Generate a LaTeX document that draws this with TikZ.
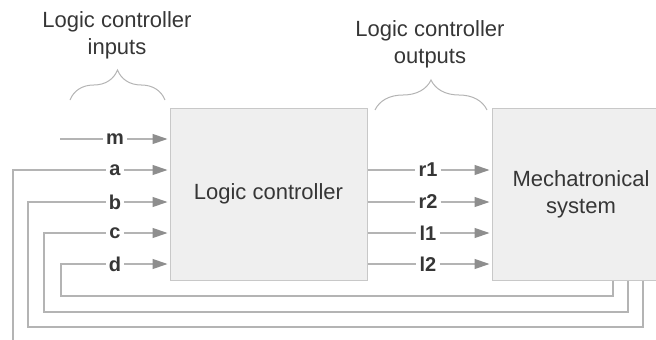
\documentclass[tikz,border=0pt]{standalone}
\usepackage{fontspec}
\setmainfont{Liberation Sans}
\usetikzlibrary{arrows.meta,decorations.pathreplacing}

\definecolor{wiregray}{HTML}{B4B4B4}
\definecolor{tipgray}{HTML}{8E8E8E}
\definecolor{boxfill}{HTML}{EFEFEF}
\definecolor{boxline}{HTML}{C8C8C8}
\definecolor{inkgray}{HTML}{363636}

\tikzset{
  block/.style={draw=boxline, fill=boxfill, line width=1pt, align=center, text=inkgray, inner sep=0pt},
  wire/.style={draw=wiregray, line width=1.2pt},
  feed/.style={wire, -{Triangle[length=15pt,width=10pt,color=tipgray]}, shorten >=2pt},
  sig/.style={font=\fontsize{20}{24}\selectfont\bfseries, text=inkgray, inner sep=3pt},
  grp/.style={draw=wiregray, line width=1pt, decorate, decoration={brace, amplitude=30pt}},
  caption/.style={align=center, text=inkgray}
}

\begin{document}
\begin{tikzpicture}[x=1pt, y=-1pt, font=\fontsize{22}{27}\selectfont]
	\useasboundingbox (0,0) rectangle (656,340);
	\clip (0,0) rectangle (656,340);
	% Blocks
	\node[block, minimum width=197pt, minimum height=172pt] (lc) at (268.5,194) {Logic controller};
	\node[block, minimum width=178pt, minimum height=172pt] (ms) at (581,194) {Mechatronical\\system};
	% Captions and braces
	\node[caption] (incap) at (117,35) {Logic controller\\inputs};
	\node[caption] (outcap) at (430,44) {Logic controller\\outputs};
	\draw[grp] (70,100) -- (165,100);
	\draw[grp] (375,110) -- (487,110);
	% Inputs
	\node[sig] (m) at (115,139) {m};
	\node[sig] (a) at (115,170) {a};
	\node[sig] (b) at (115,202) {b};
	\node[sig] (c) at (115,233) {c};
	\node[sig] (d) at (115,264) {d};
	\coordinate (m-l) at (60,139);
	\draw[wire] (m-l) -- (m);
	\draw[feed] (m) -- (m -| lc.west);
	\draw[feed] (a) -- (a -| lc.west);
	\draw[feed] (b) -- (b -| lc.west);
	\draw[feed] (c) -- (c -| lc.west);
	\draw[feed] (d) -- (d -| lc.west);
	% Outputs
	\node[sig] (r1) at (428,170) {r1};
	\node[sig] (r2) at (428,202) {r2};
	\node[sig] (l1) at (428,233) {l1};
	\node[sig] (l2) at (428,264) {l2};
	\draw[wire] (r1 -| lc.east) -- (r1);
	\draw[wire] (r2 -| lc.east) -- (r2);
	\draw[wire] (l1 -| lc.east) -- (l1);
	\draw[wire] (l2 -| lc.east) -- (l2);
	\draw[feed] (r1) -- (r1 -| ms.west);
	\draw[feed] (r2) -- (r2 -| ms.west);
	\draw[feed] (l1) -- (l1 -| ms.west);
	\draw[feed] (l2) -- (l2 -| ms.west);
	% Feedback from the system back to the inputs
	\coordinate (d-r) at (613,296);  \coordinate (d-l) at (61,296);
	\coordinate (c-r) at (628,312);  \coordinate (c-l) at (44,312);
	\coordinate (b-r) at (643,327);  \coordinate (b-l) at (28,327);
	\coordinate (a-r) at (659,343);  \coordinate (a-l) at (13,343);
	\draw[wire] (ms.south -| d-r) -- (d-r) -- (d-l) |- (d);
	\draw[wire] (ms.south -| c-r) -- (c-r) -- (c-l) |- (c);
	\draw[wire] (ms.south -| b-r) -- (b-r) -- (b-l) |- (b);
	\draw[wire] (ms.south -| a-r) -- (a-r) -- (a-l) |- (a);
\end{tikzpicture}
\end{document}
